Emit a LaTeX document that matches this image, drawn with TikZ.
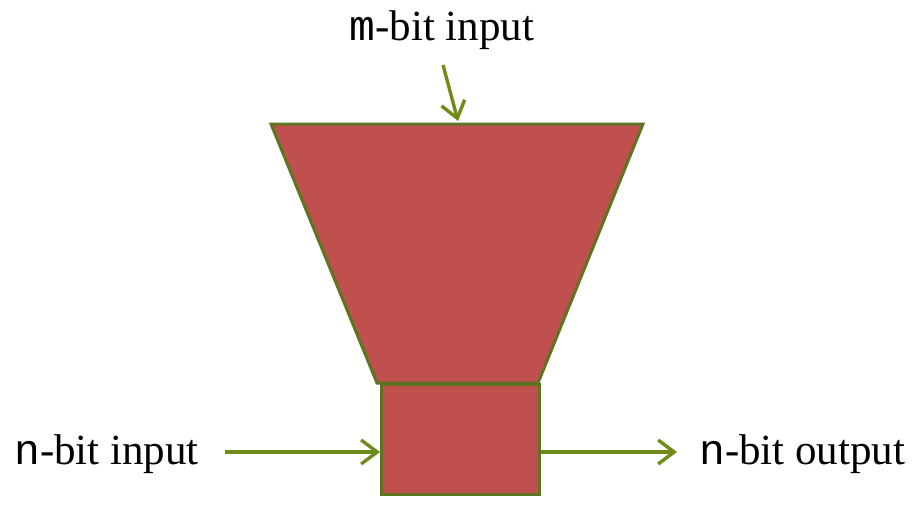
\documentclass[tikz,border=0pt]{standalone}
\usepackage{fontspec}
\setmainfont{Liberation Serif}
\setmonofont{Liberation Mono}
\usetikzlibrary{arrows.meta}
\definecolor{boxred}{HTML}{C0504D}
\definecolor{boxedge}{HTML}{5E7420}
\definecolor{arrowgreen}{HTML}{6F8C1A}
\tikzset{
  shapefill/.style={fill=boxred, draw=boxedge, line width=3pt, line join=miter},
  flow/.style={draw=arrowgreen, line width=3.4pt, -{Straight Barb[length=16pt,width=24pt,line width=3.4pt]}},
  lbl/.style={font=\fontsize{43}{48}\selectfont, inner sep=0pt, text=black}
}
\begin{document}
\begin{tikzpicture}[x=1pt,y=-1pt]
\useasboundingbox (0,0) rectangle (920,525);
% trapezoid
\coordinate (tl) at (271,124);
\coordinate (tr) at (643,124);
\coordinate (br) at (538,383);
\coordinate (bl) at (377,383);
\path[shapefill] (tl) -- (tr) -- (br) -- (bl) -- cycle;
% box
\node[shapefill, minimum width=158pt, minimum height=110pt, inner sep=0pt, anchor=north west] (box) at (380,383) {};
% labels
\node[lbl, anchor=base] (min) at (442,40) {\texttt{m}-bit input};
\node[lbl, anchor=base west] (nin) at (14,464) {\texttt{n}-bit input};
\node[lbl, anchor=base west] (nout) at (699,464) {\texttt{n}-bit output};
% arrows
\coordinate (mstart) at (443,65);
\coordinate (mend) at (458,121);
\draw[flow] (mstart) -- (mend);
\coordinate (instart) at (225,452);
\draw[flow] (instart) -- (box.west |- instart);
\coordinate (outend) at (677,452);
\draw[flow] (box.east |- outend) -- (outend);
\end{tikzpicture}
\end{document}
